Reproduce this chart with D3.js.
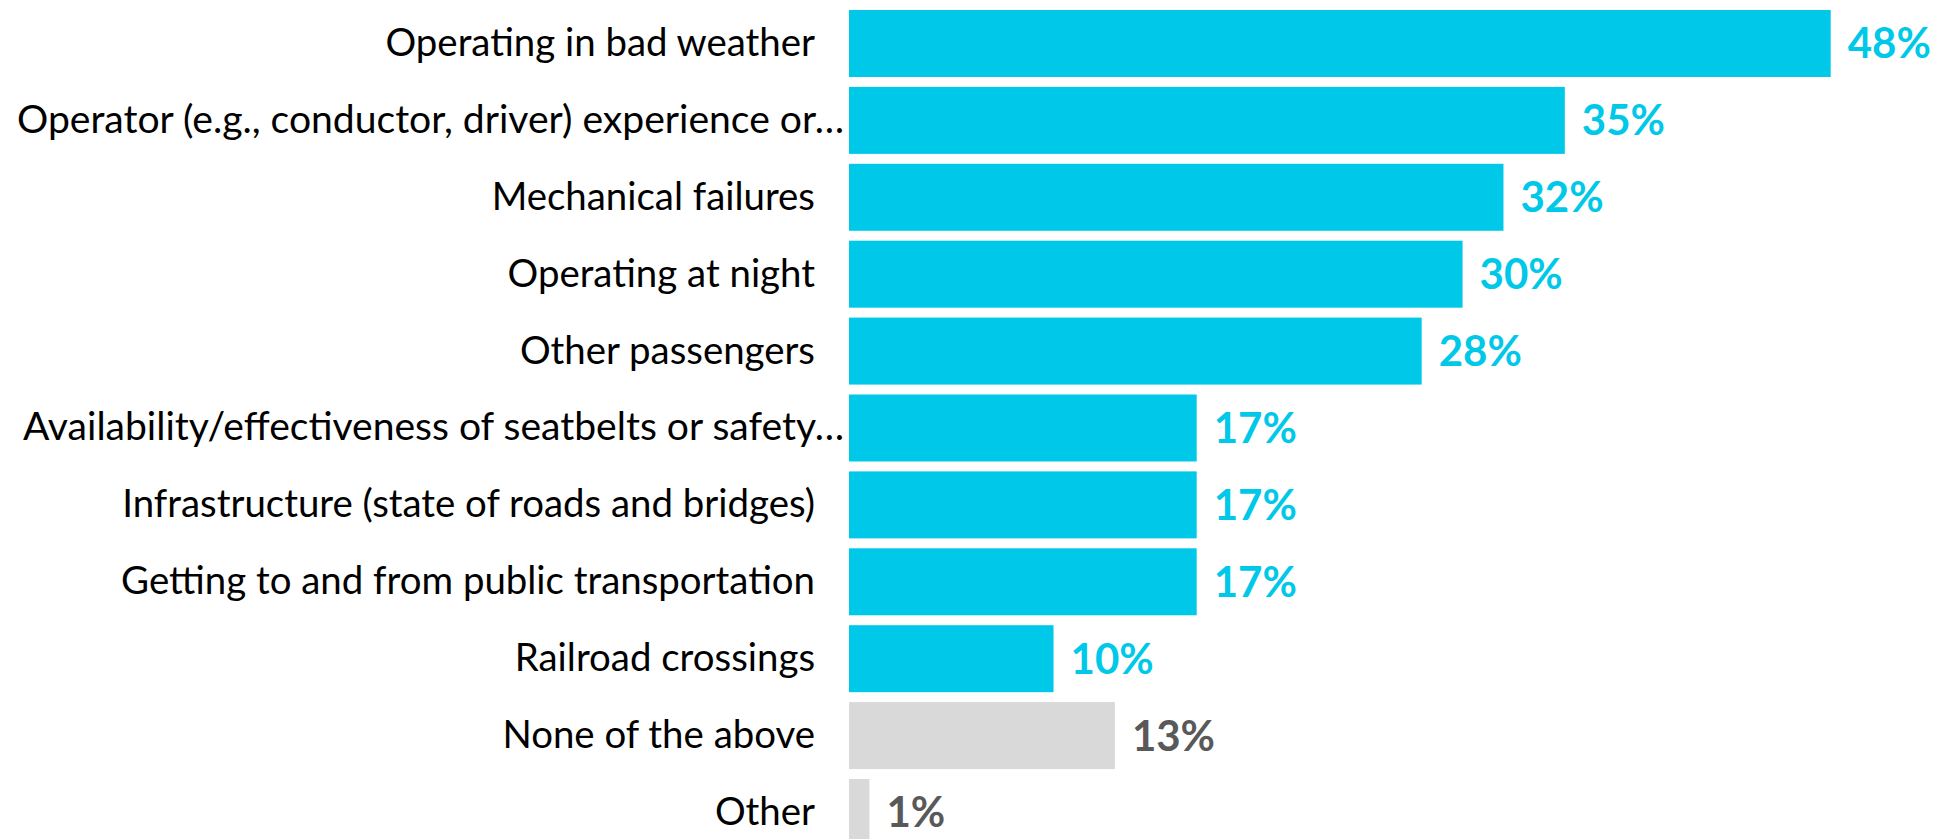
<!DOCTYPE html>
<html>
<head>
<meta charset="utf-8">
<script src="https://cdn.jsdelivr.net/npm/d3@7"></script>
<style>
html,body{margin:0;padding:0;background:#fff;overflow:hidden;}
svg{display:block;}
</style>
</head>
<body>
<script>
const categories = [
  "Operating in bad weather",
  "Operator (e.g., conductor, driver) experience or…",
  "Mechanical failures",
  "Operating at night",
  "Other passengers",
  "Availability/effectiveness of seatbelts or safety…",
  "Infrastructure (state of roads and bridges)",
  "Getting to and from public transportation",
  "Railroad crossings",
  "None of the above",
  "Other"
];
const values = [48, 35, 32, 30, 28, 17, 17, 17, 10, 13, 1];
const valueLabels = ["48%", "35%", "32%", "30%", "28%", "17%", "17%", "17%", "10%", "13%", "1%"];
const highlighted = [true, true, true, true, true, true, true, true, true, false, false];
const truncated = [false, true, false, false, false, true, false, false, false, false, false];

const W = 1944, H = 839;
const cyan = "#00C8E8", grey = "#D9D9D9", greyText = "#595959";

const svg = d3.select("body").append("svg").attr("width", W).attr("height", H);

const step = 76.9;
const y = d3.scaleBand()
  .domain(categories)
  .range([10 - 0.0645 * step, 10 - 0.0645 * step + categories.length * step])
  .paddingInner(0.129)
  .paddingOuter(0.0645);

const x = d3.scaleLinear().domain([0, 48]).range([849, 1830.7]);

const rows = categories.map((c, i) => ({c, v: values[i], lab: valueLabels[i], hi: highlighted[i], tr: truncated[i]}));

svg.selectAll("rect.bar").data(rows).join("rect")
  .attr("class", "bar")
  .attr("x", x(0))
  .attr("y", d => y(d.c))
  .attr("width", d => x(d.v) - x(0))
  .attr("height", y.bandwidth())
  .attr("fill", d => d.hi ? cyan : grey);

svg.selectAll("text.cat").data(rows).join("text")
  .attr("class", "cat")
  .attr("x", d => d.tr ? 844 : 815)
  .attr("y", d => y(d.c) + y.bandwidth() / 2 + 12.5)
  .attr("text-anchor", "end")
  .attr("font-family", "Lato, sans-serif")
  .attr("font-size", 38.4)
  .attr("fill", "#000")
  .each(function(d) {
    if (d.tr) {
      const len = d.c.startsWith("Operator") ? 827 : 821;
      d3.select(this).attr("textLength", len).attr("lengthAdjust", "spacingAndGlyphs");
    }
  })
  .text(d => d.c);

svg.selectAll("text.val").data(rows).join("text")
  .attr("class", "val")
  .attr("x", d => x(d.v) + 17)
  .attr("y", d => y(d.c) + y.bandwidth() / 2 + 15)
  .attr("text-anchor", "start")
  .attr("font-family", "Lato, sans-serif")
  .attr("font-weight", 700)
  .attr("font-size", 42)
  .attr("fill", d => d.hi ? cyan : greyText)
  .text(d => d.lab);
</script>
</body>
</html>
